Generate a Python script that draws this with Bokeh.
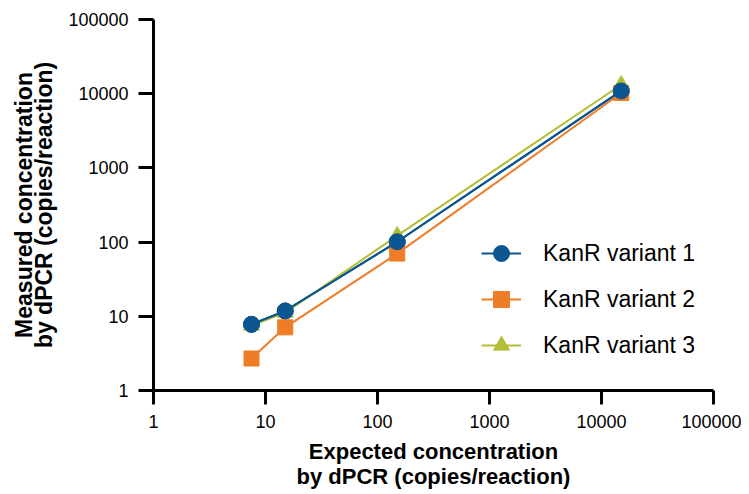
from bokeh.plotting import figure
from bokeh.models import FixedTicker, PrintfTickFormatter, Legend, LegendItem, Range1d
from bokeh.embed import file_html
from bokeh.resources import INLINE

# Data
expected = [7.5, 15, 150, 15000]
variant1 = [7.8, 11.8, 101, 10900]
variant2 = [2.7, 7.1, 70, 10200]
variant3 = [7.5, 11.2, 122, 13200]
series_names = ["KanR variant 1", "KanR variant 2", "KanR variant 3"]
tick_values = [1, 10, 100, 1000, 10000, 100000]
x_title = ["Expected concentration", "by dPCR (copies/reaction)"]
y_title = ["Measured concentration", "by dPCR (copies/reaction)"]

colors = ["#0b5690", "#ef7c26", "#b3be34"]
FONT = "Liberation Sans"

p = figure(width=741, height=492, x_axis_type="log", y_axis_type="log",
           x_range=Range1d(tick_values[0], tick_values[-1]),
           y_range=Range1d(tick_values[0], tick_values[-1]),
           output_backend="svg", toolbar_location=None,
           min_border_left=153, min_border_right=28, min_border_top=19, min_border_bottom=102)
p.outline_line_color = None
p.xgrid.visible = False
p.ygrid.visible = False
p.background_fill_color = None

for ax in (p.xaxis[0], p.yaxis[0]):
    ax.ticker = FixedTicker(ticks=tick_values, minor_ticks=[])
    ax.formatter = PrintfTickFormatter(format="%d")
    ax.axis_line_width = 3
    ax.major_tick_line_width = 3
    ax.major_tick_in = 0
    ax.minor_tick_line_color = None
    ax.major_label_text_font = FONT
    ax.major_label_text_font_size = "18px"
    ax.major_label_text_color = "black"
    ax.axis_label_text_font = FONT
    ax.axis_label_text_font_style = "bold"
    ax.axis_label_text_color = "black"

p.xaxis.major_tick_out = 14
p.yaxis.major_tick_out = 15
p.xaxis.major_label_standoff = 10
p.yaxis.major_label_standoff = 10

p.xaxis.axis_label = "\n".join(x_title)
p.yaxis.axis_label = "\n".join(y_title)
p.xaxis.axis_label_text_font_size = "22px"
p.yaxis.axis_label_text_font_size = "23px"
p.xaxis.axis_label_text_line_height = 1.0
p.yaxis.axis_label_text_line_height = 0.8
p.xaxis.axis_label_standoff = 8
p.yaxis.axis_label_standoff = 8

l1 = p.line(expected, variant1, line_color=colors[0], line_width=2)
m1 = p.scatter(expected, variant1, marker="circle", size=16, fill_color=colors[0], line_color=colors[0])
l2 = p.line(expected, variant2, line_color=colors[1], line_width=2)
m2 = p.scatter(expected, variant2, marker="square", size=15, fill_color=colors[1], line_color=colors[1])
l3 = p.line(expected, variant3, line_color=colors[2], line_width=2)
m3 = p.scatter(expected, variant3, marker="triangle", size=16, fill_color=colors[2], line_color=colors[2])
# redraw variant1 on top
l1b = p.line(expected, variant1, line_color=colors[0], line_width=2)
m1b = p.scatter(expected, variant1, marker="circle", size=16, fill_color=colors[0], line_color=colors[0])

legend = Legend(items=[
    LegendItem(label=series_names[0], renderers=[l1, m1]),
    LegendItem(label=series_names[1], renderers=[l2, m2]),
    LegendItem(label=series_names[2], renderers=[l3, m3]),
], location=(328, 25))
legend.glyph_width = 40
legend.glyph_height = 40
legend.label_height = 40
legend.spacing = 6
legend.padding = 0
legend.margin = 0
legend.label_standoff = 22
legend.border_line_color = None
legend.background_fill_alpha = 0
legend.label_text_font = FONT
legend.label_text_font_size = "23px"
legend.label_text_color = "black"
p.add_layout(legend)

open("out.html", "w").write(file_html(p, INLINE))
